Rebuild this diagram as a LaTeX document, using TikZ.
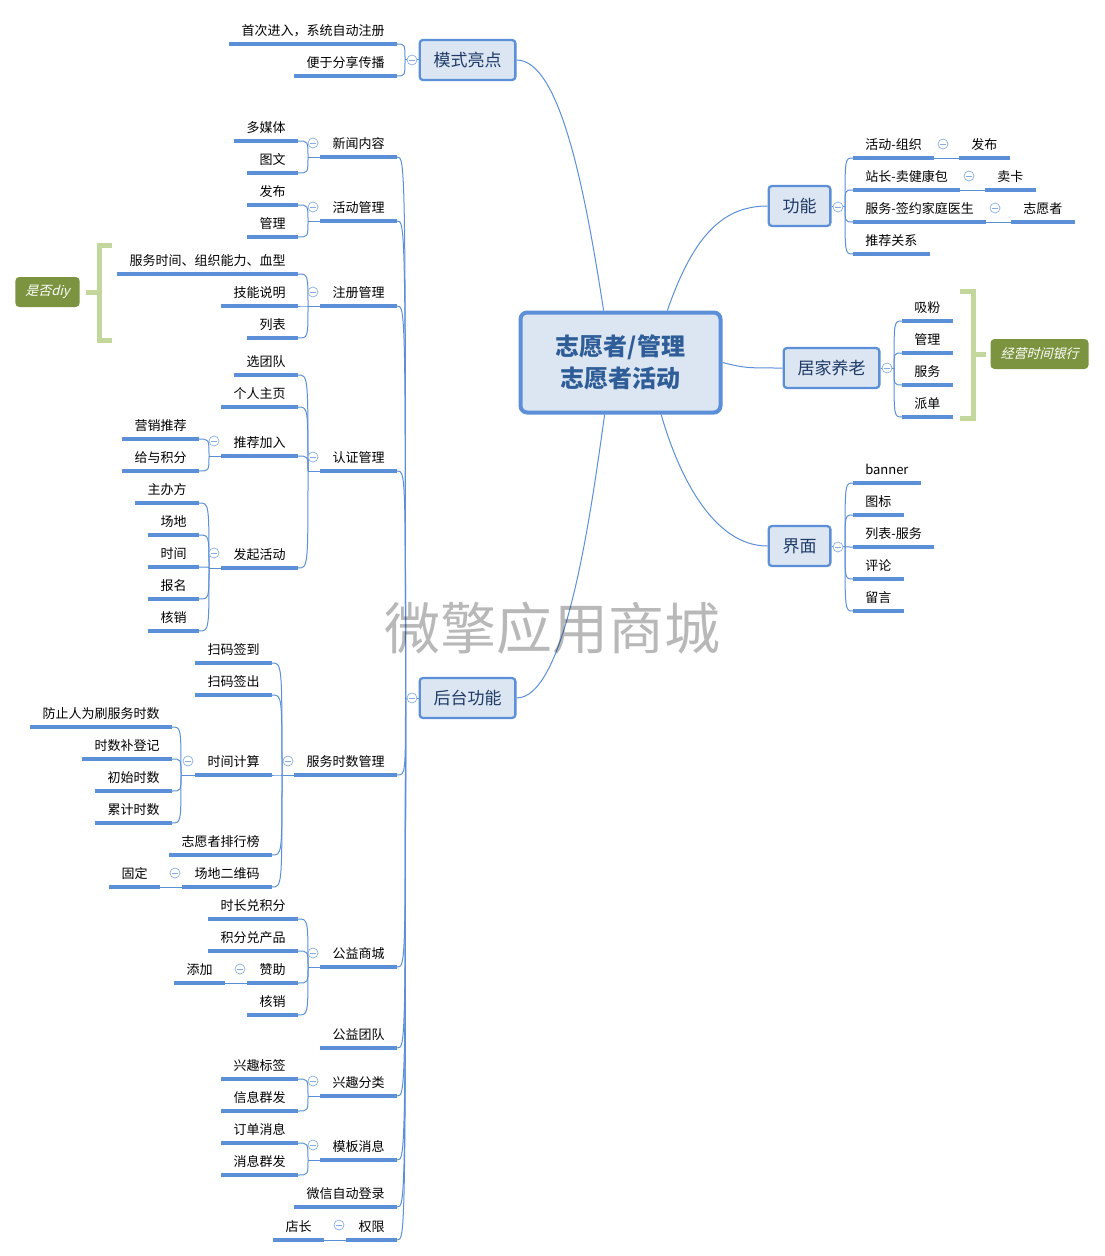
\documentclass[tikz,border=0pt]{standalone}
\usepackage{fontspec}
\setmainfont{Noto Sans CJK SC}
\newfontfamily\slantfont[FakeSlant=0.25]{Noto Sans CJK SC}
\definecolor{linkblue}{HTML}{5B8FD8}
\definecolor{boxfill}{HTML}{DCE6F3}
\definecolor{rootblue}{HTML}{2F5D98}
\definecolor{topicink}{HTML}{1F3A66}
\definecolor{tagolive}{HTML}{7C943F}
\definecolor{bracketgreen}{HTML}{C3D69B}
\tikzset{
    link/.style={draw=linkblue, line width=0.75pt},
    leafline/.style={draw=linkblue, line width=2.4pt},
    leafnode/.style={font=\fontsize{9.75pt}{11pt}\selectfont, inner xsep=9pt, inner ysep=4.4pt, text height=8.5pt, text depth=1.5pt},
    leafleft/.style={leafnode, anchor=south east},
    leafright/.style={leafnode, anchor=south west},
    topicnode/.style={draw=linkblue, fill=boxfill, line width=1.7pt, rounded corners=2.5pt, text=topicink, font=\fontsize{12.75pt}{15pt}\selectfont, inner xsep=10.4pt, inner ysep=0pt, minimum height=30pt},
    rootnode/.style={draw=linkblue, fill=boxfill, line width=3pt, rounded corners=5pt, text=rootblue, align=center, font=\fontsize{18pt}{24pt}\selectfont\bfseries, minimum width=150pt, minimum height=75pt},
    tagnode/.style={fill=tagolive, rounded corners=3pt, text=white, font=\fontsize{9.75pt}{11pt}\slantfont, minimum height=22.5pt, inner xsep=7.5pt, inner ysep=0pt},
    bracketline/.style={draw=bracketgreen, line width=3.75pt},
    foldmark/.style={circle, draw=linkblue!75, fill=white, line width=0.5pt, minimum size=7.5pt, inner sep=0pt,
        path picture={\draw[linkblue!75, line width=0.5pt] ([xshift=1.8pt]path picture bounding box.west) -- ([xshift=-1.8pt]path picture bounding box.east);}},
    watermark/.style={text=black, text opacity=0.28, font=\fontsize{42pt}{48pt}\selectfont}
}
\begin{document}
\begin{tikzpicture}[x=0.75pt, y=-0.75pt]
        \useasboundingbox (0,0) rectangle (1105,1256);

        \draw (620.5,362.5) node[rootnode] (root) {志愿者/管理\\志愿者活动};
        \foreach \n/\x/\y/\t in {mode/467.5/60/模式亮点, back/467.5/698/后台功能, func/799.5/206/功能, home/831.5/368/居家养老, ui/799.5/546/界面} {
            \draw (\x,\y) node[topicnode] (\n) {\t};
        }

        \draw [link] (mode.east) .. controls (560,60) and (585,190) .. (root.108);
        \draw [link] (back.east) .. controls (565,698) and (590,520) .. (root.-107);
        \draw [link] (func.west) .. controls (720,206) and (692,240) .. (root.48.5);
        \draw [link] (ui.west) .. controls (715,546) and (680,480) .. (root.-52);
        \draw [link] (home.west) .. controls (745,368) .. (root.east);

        \foreach \n/\x/\y in {jmode/405/60, jback/405.5/698, jnews/308/157, jact/308/221, jreg/308/306, jauth/308/471, jrec/209/456, jlaunch/209/568, jhours/282/775, jtime/181/775, jmall/308/967, jint/308/1096, jtpl/308/1160, jfunc/845/206, jhome/894/368, jui/845/546} {
            \coordinate (\n) at (\x,\y);
        }

        \foreach \n/\x/\y/\t in {
            first/397/44/首次进入，系统自动注册, share/397/76/便于分享传播,
            news/397/157/新闻内容, act/397/221/活动管理, reg/397/306/注册管理, auth/397/471/认证管理,
            hours/397/775/服务时数管理, mall/397/967/公益商城, team/397/1048/公益团队, inter/397/1096/兴趣分类,
            tpl/397/1160/模板消息, wxlog/397/1207/微信自动登录, perm/397/1240/权限,
            media/298/141/多媒体, pic/298/173/图文, pub/298/205/发布, mgr/298/237/管理,
            svc/298/274/服务时间、组织能力、血型, skill/298/306/技能说明, reglist/298/338/列表,
            pick/298/375/选团队, page/298/407/个人主页, rec/298/456/推荐加入, launch/298/568/发起活动,
            sale/199/439/营销推荐, points/199/471/给与积分,
            host/199/503/主办方, place/199/535/场地, when/199/567/时间, sign/199/599/报名, check/199/631/核销,
            scanin/272/663/扫码签到, scanout/272/695/扫码签出, calc/272/775/时间计算, rank/272/855/志愿者排行榜, qr/272/887/场地二维码,
            guard/172/727/防止人为刷服务时数, fill/172/759/时数补登记, init/172/791/初始时数, total/172/823/累计时数,
            fixed/160/887/固定,
            ptime/298/919/时长兑积分, pgoods/298/951/积分兑产品, spons/298/983/赞助, mcheck/298/1015/核销, addon/225/983/添加,
            tagi/298/1079/兴趣标签, msg/298/1111/信息群发, order/298/1143/订单消息, mass/298/1175/消息群发,
            owner/324/1240/店长} {
            \draw (\x,\y) node[leafleft] (\n) {\t};
            \path [leafline] (\n.south west) -- (\n.south east);
        }

        \foreach \n/\x/\y/\t in {
            org/853/158/活动-组织, fpub/959/158/发布, sell/853/190/站长-卖健康包, card/985/190/卖卡,
            doctor/853/222/服务-签约家庭医生, vol/1011/222/志愿者, refer/853/254/推荐关系,
            fans/902/321/吸粉, hmgr/902/353/管理, hsvc/902/385/服务, hdis/902/417/派单,
            banner/853/483/banner, icon/853/515/图标, uilist/853/547/列表-服务, review/853/579/评论, note/853/611/留言} {
            \draw (\x,\y) node[leafright] (\n) {\t};
            \path [leafline] (\n.south west) -- (\n.south east);
        }

        \foreach \j/\c in {
            jmode/first, jmode/share,
            jback/news, jback/act, jback/reg, jback/auth, jback/hours, jback/mall, jback/team, jback/inter, jback/tpl, jback/wxlog, jback/perm,
            jnews/media, jnews/pic, jact/pub, jact/mgr, jreg/svc, jreg/skill, jreg/reglist,
            jauth/pick, jauth/page, jauth/rec, jauth/launch,
            jrec/sale, jrec/points, jlaunch/host, jlaunch/place, jlaunch/when, jlaunch/sign, jlaunch/check,
            jhours/scanin, jhours/scanout, jhours/calc, jhours/rank, jhours/qr,
            jtime/guard, jtime/fill, jtime/init, jtime/total,
            jmall/ptime, jmall/pgoods, jmall/spons, jmall/mcheck,
            jint/tagi, jint/msg, jtpl/order, jtpl/mass} {
            \draw [link] (\j) .. controls (\j |- \c.south east) .. (\c.south east);
        }

        \foreach \j/\c in {
            jfunc/org, jfunc/sell, jfunc/doctor, jfunc/refer,
            jhome/fans, jhome/hmgr, jhome/hsvc, jhome/hdis,
            jui/banner, jui/icon, jui/uilist, jui/review, jui/note} {
            \draw [link] (\j) .. controls (\j |- \c.south west) .. (\c.south west);
        }

        \foreach \j/\p in {jmode/mode.west, jback/back.west, jnews/news.south west, jact/act.south west, jreg/reg.south west, jauth/auth.south west, jrec/rec.south west, jlaunch/launch.south west, jhours/hours.south west, jtime/calc.south west, jmall/mall.south west, jint/inter.south west, jtpl/tpl.south west, jfunc/func.east, jhome/home.east, jui/ui.east} {
            \draw [link] (\j) -- (\p);
        }

        \foreach \a/\b in {fixed/qr, addon/spons, owner/perm} {
            \draw [link] (\a.south east) -- (\b.south west);
        }
        \foreach \a/\b in {org/fpub, sell/card, doctor/vol} {
            \draw [link] (\a.south east) -- (\b.south west);
        }

        \foreach \n/\x/\y in {
            fmode/412/60, fback/412/698, fnews/313/143, fact/313/207, freg/313/292, fauth/313/457,
            frec/214/441, flaunch/214/553, fhours/288/761, ftime/188/761, fqr/175/873, fmall/313/953,
            fadd/240/969, fint/313/1081, ftpl/313/1145, fperm/339/1225,
            ffunc/838/207, fhome/887/368, fui/838/547, forg/943/144, fsell/969/176, fdoc/995/208} {
            \draw (\x,\y) node[foldmark] (\n) {};
        }

        \draw (47.5,292) node[tagnode] (tagdiy) {是否diy};
        \draw (1039.5,354) node[tagnode] (tagbank) {经营时间银行};
        \draw [bracketline] (112,245.5) -- (99,245.5) -- (99,340.5) -- (112,340.5);
        \draw [bracketline] (86,292) -- (99,292);
        \draw [bracketline] (960,291.5) -- (973,291.5) -- (973,418.5) -- (960,418.5);
        \draw [bracketline] (986,354) -- (973,354);

        \draw (552.5,628) node[watermark] (mark) {微擎应用商城};
\end{tikzpicture}
\end{document}
